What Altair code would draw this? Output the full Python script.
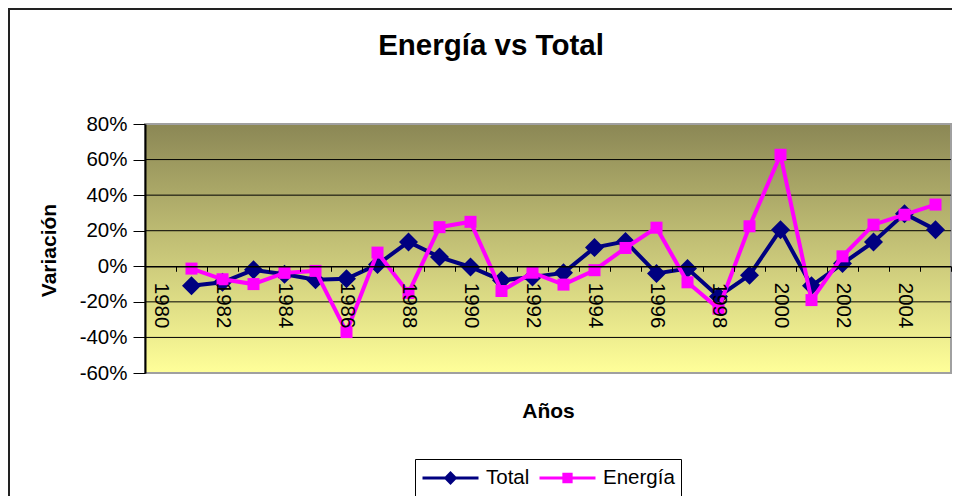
import altair as alt
import pandas as pd

years = list(range(1980, 2006))
total = [None, -11, -9, -2, -4.5, -7.5, -7, 1, 13.7, 5.2, -0.4, -7.9, -6, -3.7,
         10.5, 14, -4, -1.3, -17, -5, 20.6, -11, 1.5, 13.7, 29.6, 20.6]
energia = [None, -1.3, -7.3, -10, -3.7, -2.6, -37, 7.7, -15, 22, 25, -13.9, -3.6,
           -10.3, -2.2, 10.3, 21.7, -9, -23.8, 22.5, 62.7, -19, 5.6, 23.4, 29, 34.7]
series = ["Total", "Energía"]
colors = ["#000080", "#FF00FF"]
y_ticks = [-0.6, -0.4, -0.2, 0, 0.2, 0.4, 0.6, 0.8]
grid_values = [-0.4, -0.2, 0.2, 0.4, 0.6]
legend_paths = ["M-1,0H1M-0.17,0L0,-0.17L0.17,0L0,0.17Z",
                "M-1,0H1M-0.13,-0.13H0.13V0.13H-0.13Z"]
title_text = "Energía vs Total"

rows = []
for s, vals in zip(series, [total, energia]):
    for yr, v in zip(years, vals):
        rows.append({"year": yr, "series": s, "value": None if v is None else v / 100})
df = pd.DataFrame(rows)
one = pd.DataFrame({"k": [0]})
grid_df = pd.DataFrame({"value": grid_values})

W, H = 806, 249
FONT = "Liberation Sans"
LBL = 20.5

xscale = alt.Scale(type="band", domain=years, paddingInner=0, paddingOuter=0)
yscale = alt.Scale(domain=[-0.6, 0.8], nice=False, zero=False)
cscale = alt.Scale(domain=series, range=colors)

xaxis = alt.Axis(
    title="Años", titleFont=FONT, titleFontSize=21, titleFontWeight="bold",
    titleColor="black", titleBaseline="alphabetic", titleY=151.7,
    labelAngle=90, labelAlign="left", labelBaseline="middle",
    labelExpr="datum.value % 2 == 0 ? datum.label : ''",
    labelFont=FONT, labelFontSize=LBL, labelColor="black", labelPadding=11,
    labelOverlap=False, labelFlush=False,
    tickSize=5, tickBand="extent", tickColor="black", tickWidth=1,
    domainColor="black", domainWidth=1.5, grid=False,
    offset=-(H * 0.6 / 1.4), zindex=1,
)
yaxis = alt.Axis(
    values=y_ticks, labelExpr="round(datum.value * 100) + '%'", grid=False,
    title="Variación", titleFont=FONT, titleFontSize=21, titleFontWeight="bold",
    titleColor="black", titleBaseline="alphabetic", titleX=-90, titleY=126,
    titleAngle=-90,
    labelFont=FONT, labelFontSize=LBL, labelColor="black", labelPadding=6,
    tickSize=12, tickColor="black", tickWidth=1,
    domainColor="black", domainWidth=2, zindex=1,
)
leg = alt.Legend(
    title=None, orient="none", legendX=270, legendY=335, direction="horizontal",
    symbolSize=3136, symbolStrokeWidth=3, symbolOpacity=1,
    labelFont=FONT, labelFontSize=LBL, labelColor="black", labelOffset=6,
    columnPadding=8, padding=6, strokeColor="black", fillColor="white",
    clipHeight=26,
)

border = alt.Chart(one).mark_rect(fillOpacity=0, stroke="#222222", strokeWidth=2).encode(
    x=alt.value(-136), x2=alt.value(W + 300), y=alt.value(-115), y2=alt.value(H + 400)
)
title = alt.Chart(one).mark_text(
    text=title_text, font=FONT, fontSize=29.5, fontWeight="bold", color="black",
    align="center", baseline="alphabetic",
).encode(x=alt.value(346), y=alt.value(-69))
bg = alt.Chart(one).mark_rect(
    fill={"gradient": "linear", "x1": 0, "x2": 0, "y1": 0, "y2": 1,
          "stops": [{"offset": 0, "color": "#8B8755"}, {"offset": 1, "color": "#FFFF99"}]},
    stroke="#A0A0A0", strokeWidth=2,
).encode(x=alt.value(0), x2=alt.value(W), y=alt.value(0), y2=alt.value(H))
grid = alt.Chart(grid_df).mark_rule(color="black", strokeWidth=1).encode(
    y=alt.Y("value:Q", scale=yscale, axis=yaxis)
)

base = alt.Chart(df).encode(
    x=alt.X("year:O", scale=xscale, axis=xaxis),
    y=alt.Y("value:Q", scale=yscale, axis=yaxis),
    color=alt.Color("series:N", scale=cscale, legend=leg),
)

layers = []
for s, shape, size in zip(series, ["diamond", "square"], [361, 144]):
    sub = base.transform_filter(alt.datum.series == s)
    layers.append(sub.mark_line(strokeWidth=4))
    layers.append(sub.mark_point(filled=True, shape=shape, size=size, opacity=1, strokeWidth=0))

legend_layer = alt.Chart(df).mark_point(filled=True, opacity=1, clip=True).encode(
    x=alt.value(-3000), y=alt.value(-3000),
    color=alt.Color("series:N", scale=cscale, legend=leg),
    stroke=alt.Stroke("series:N", scale=alt.Scale(domain=series, range=colors), legend=leg),
    shape=alt.Shape("series:N", scale=alt.Scale(domain=series, range=legend_paths), legend=leg),
)

chart = alt.layer(border, title, bg, grid, *layers, legend_layer).properties(
    width=W, height=H,
    autosize=alt.AutoSizeParams(type="none"),
    padding={"left": 137, "top": 116, "right": 1, "bottom": 123},
    background="white",
).configure_view(strokeWidth=0)

chart.save("out.html", embed_options={"renderer": "svg", "actions": False})
